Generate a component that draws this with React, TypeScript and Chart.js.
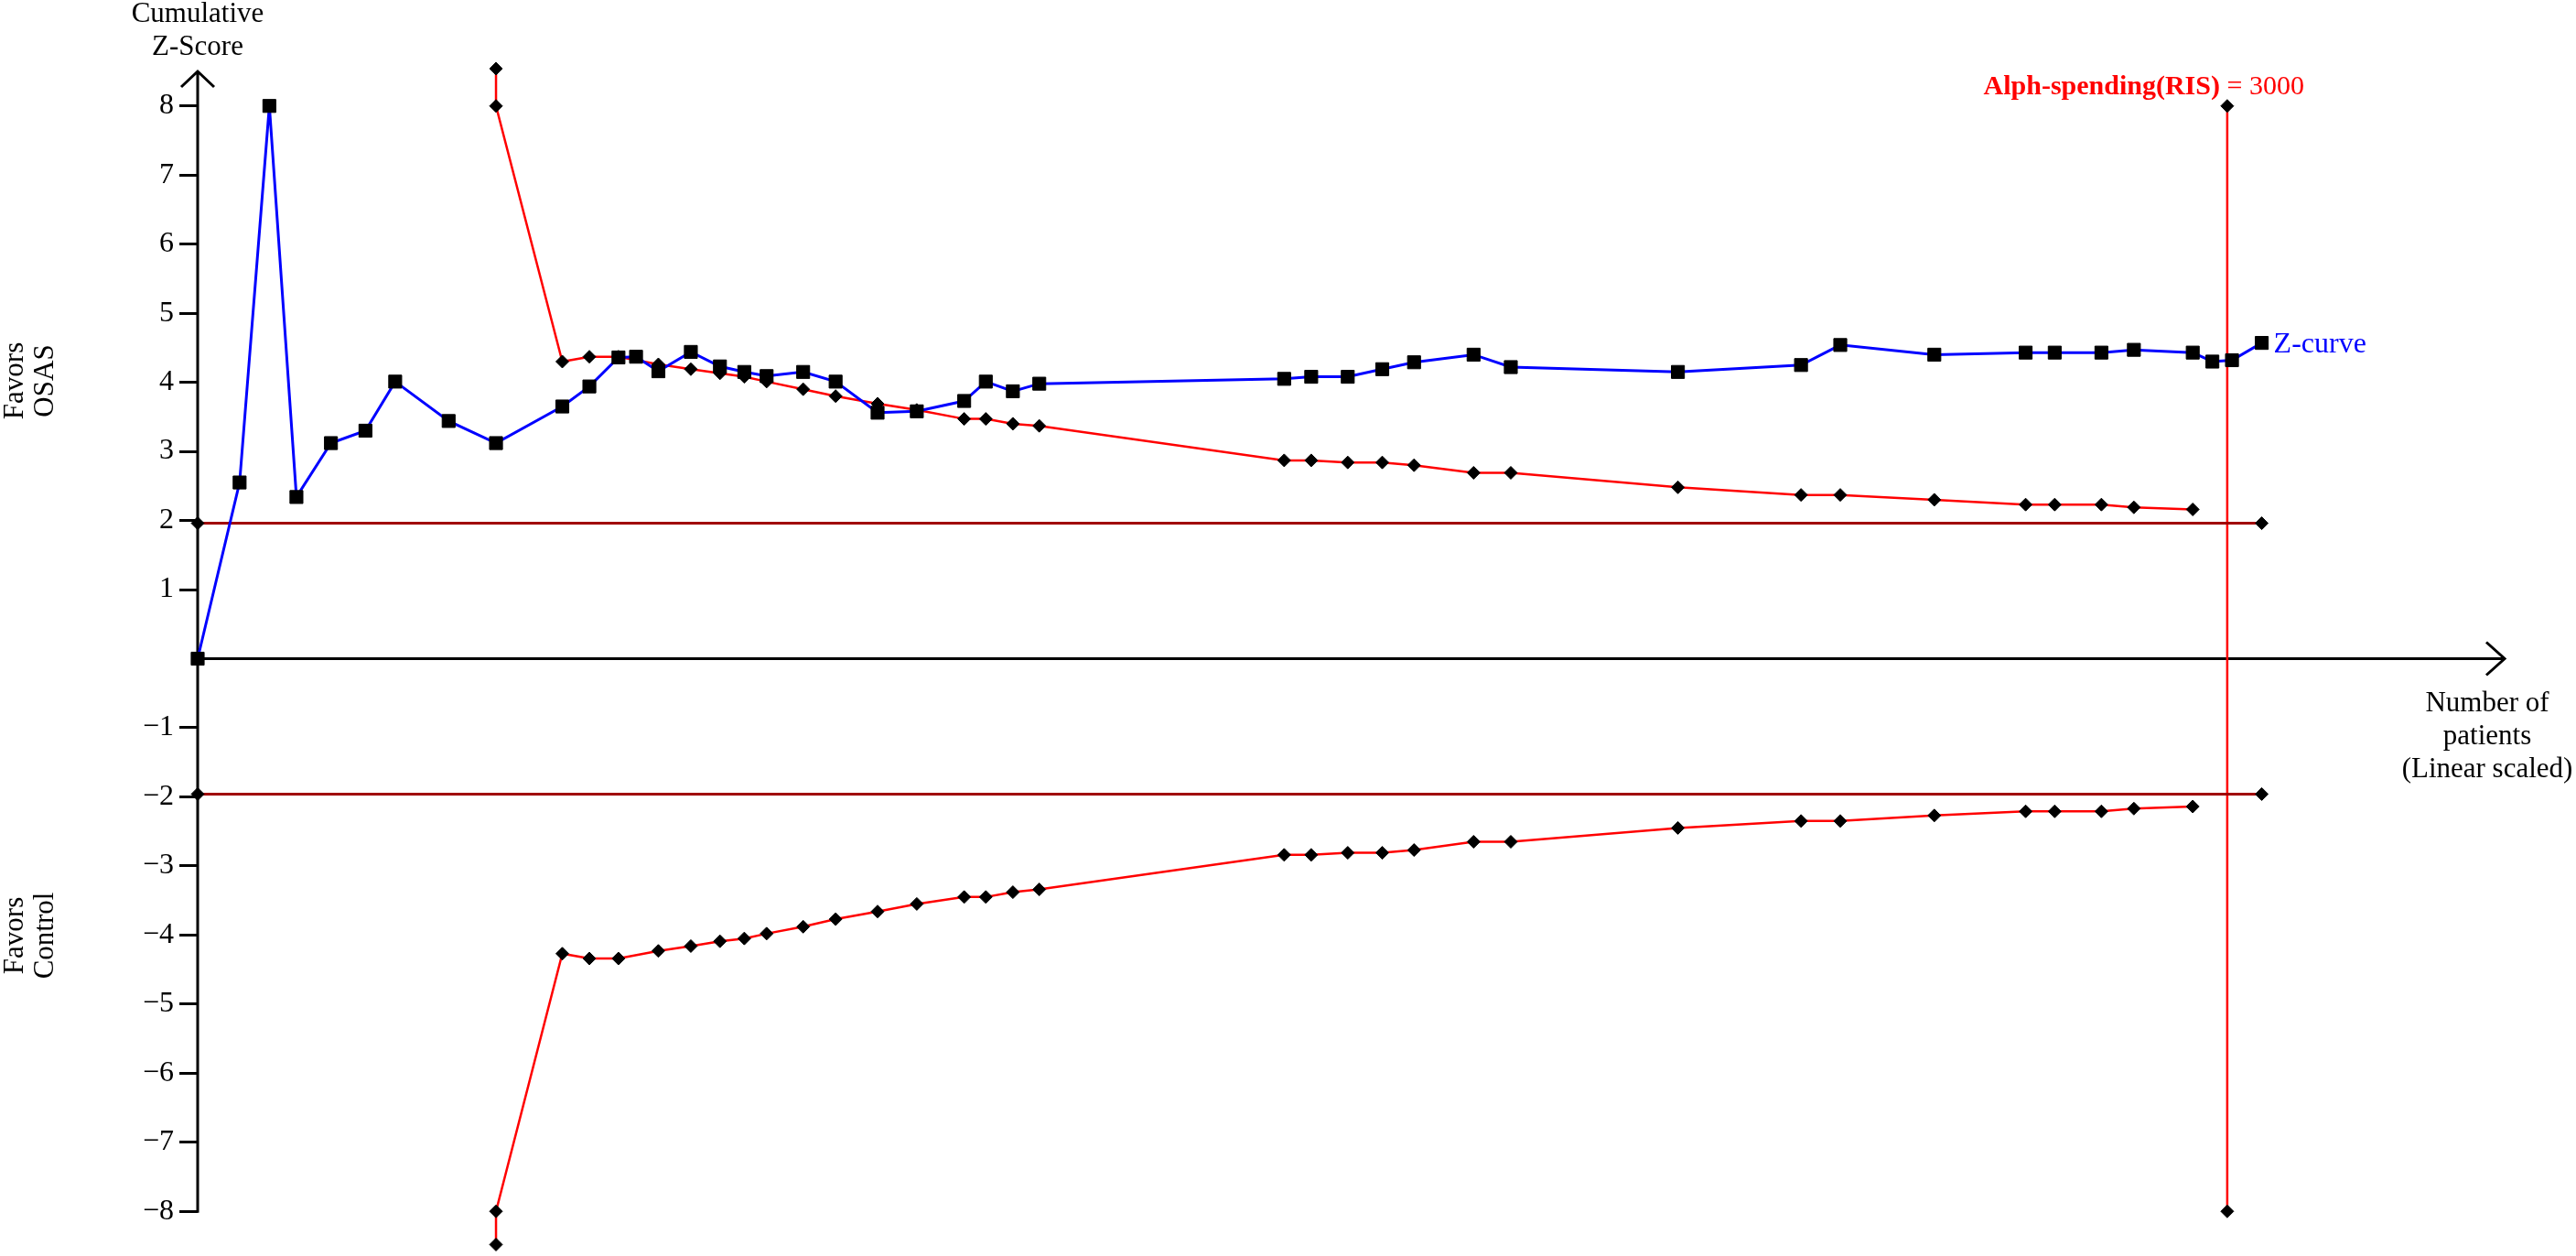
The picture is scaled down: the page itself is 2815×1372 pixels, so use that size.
import React, { useEffect, useRef } from 'react';
import { Chart, registerables } from 'chart.js';

Chart.register(...registerables);

// Cumulative Z-curve (number of patients vs cumulative Z-score)
const patients = [0, 62, 106, 146, 197, 248, 292, 371, 441, 539, 579, 622, 648, 681, 729, 772, 808, 841, 895, 943, 1005, 1063, 1133, 1165, 1205, 1244, 1606, 1646, 1700, 1751, 1798, 1886, 1941, 2188, 2370, 2428, 2567, 2702, 2745, 2814, 2862, 2949, 2978, 3007, 3051];
const zCurve = [0, 2.55, 8.0, 2.34, 3.12, 3.3, 4.01, 3.44, 3.12, 3.65, 3.94, 4.36, 4.37, 4.16, 4.44, 4.23, 4.15, 4.09, 4.15, 4.01, 3.56, 3.58, 3.73, 4.01, 3.87, 3.98, 4.05, 4.08, 4.08, 4.19, 4.29, 4.4, 4.22, 4.15, 4.25, 4.54, 4.4, 4.43, 4.43, 4.43, 4.47, 4.43, 4.3, 4.32, 4.57];

// Alpha-spending monitoring boundaries
const boundaryPatients = [441, 441, 539, 579, 622, 681, 729, 772, 808, 841, 895, 943, 1005, 1063, 1133, 1165, 1205, 1244, 1606, 1646, 1700, 1751, 1798, 1886, 1941, 2188, 2370, 2428, 2567, 2702, 2745, 2814, 2862, 2949];
const upperBoundary = [8.54, 8.0, 4.3, 4.37, 4.37, 4.26, 4.19, 4.13, 4.08, 4.01, 3.9, 3.8, 3.69, 3.6, 3.47, 3.47, 3.4, 3.37, 2.87, 2.87, 2.84, 2.84, 2.8, 2.69, 2.69, 2.48, 2.37, 2.37, 2.3, 2.23, 2.23, 2.23, 2.19, 2.16];
const lowerBoundary = [-8.48, -8.0, -4.27, -4.34, -4.34, -4.23, -4.16, -4.09, -4.05, -3.98, -3.88, -3.77, -3.66, -3.55, -3.45, -3.45, -3.38, -3.34, -2.84, -2.84, -2.81, -2.81, -2.77, -2.65, -2.65, -2.45, -2.35, -2.35, -2.27, -2.21, -2.21, -2.21, -2.17, -2.14];

// Conventional boundaries (Z = ±1.96)
const convPatients = [0, 3051];
const convUpper = [1.96, 1.96];
const convLower = [-1.96, -1.96];

// Required information size line
const risValue = 3000;
const risPatients = [risValue, risValue];
const risZ = [8, -8];

// Axis settings
const yTickValues = [-8, -7, -6, -5, -4, -3, -2, -1, 1, 2, 3, 4, 5, 6, 7, 8];
const yMin = -8.5;
const yMax = 8.5;
const yAxisEnd = -8;
const xMin = 0;
const xMax = 3410;

const SERIF = '"Liberation Serif", "Times New Roman", serif';

const toPoints = (xs: number[], ys: number[]) => xs.map((x, i) => ({ x, y: ys[i] }));

const decorPlugin = {
  id: 'decor',
  beforeDatasetsDraw(chart: any) {
    const { ctx, chartArea, scales } = chart;
    const y0 = scales.y.getPixelForValue(0);
    const yEnd = scales.y.getPixelForValue(yAxisEnd);
    ctx.save();
    ctx.strokeStyle = '#000';
    ctx.lineWidth = 3;
    ctx.lineCap = 'butt';
    ctx.beginPath();
    // x axis with arrow
    ctx.moveTo(chartArea.left, y0);
    ctx.lineTo(chartArea.right, y0);
    ctx.moveTo(chartArea.right - 20, y0 - 18);
    ctx.lineTo(chartArea.right, y0);
    ctx.lineTo(chartArea.right - 20, y0 + 18);
    // y axis with arrow
    ctx.moveTo(chartArea.left, yEnd + 1.5);
    ctx.lineTo(chartArea.left, chartArea.top);
    ctx.moveTo(chartArea.left - 18, chartArea.top + 17);
    ctx.lineTo(chartArea.left, chartArea.top);
    ctx.lineTo(chartArea.left + 18, chartArea.top + 17);
    ctx.stroke();
    ctx.restore();
  },
  afterDraw(chart: any) {
    const { ctx, chartArea, scales } = chart;
    ctx.save();
    ctx.fillStyle = '#000';
    ctx.font = `31px ${SERIF}`;
    ctx.textAlign = 'center';
    ctx.textBaseline = 'alphabetic';
    ctx.fillText('Cumulative', chartArea.left, 24);
    ctx.fillText('Z-Score', chartArea.left, 60);

    ctx.fillText('Number of', 2718, 777);
    ctx.fillText('patients', 2718, 813);
    ctx.fillText('(Linear scaled)', 2718, 849);

    const rot = (t: string, x: number, y: number) => {
      ctx.save();
      ctx.translate(x, y);
      ctx.rotate(-Math.PI / 2);
      ctx.fillText(t, 0, 0);
      ctx.restore();
    };
    rot('Favors', 25, 416);
    rot('OSAS', 58, 416);
    rot('Favors', 25, 1022);
    rot('Control', 58, 1022);

    // Z-curve label
    const lx = scales.x.getPixelForValue(patients[patients.length - 1]);
    const ly = scales.y.getPixelForValue(zCurve[zCurve.length - 1]);
    ctx.fillStyle = '#0000ff';
    ctx.font = `32px ${SERIF}`;
    ctx.textAlign = 'left';
    ctx.fillText('Z-curve', lx + 13, ly + 10);

    // RIS label
    const rx = scales.x.getPixelForValue(risValue);
    const ry = scales.y.getPixelForValue(risZ[0]);
    ctx.fillStyle = '#ff0000';
    ctx.textAlign = 'right';
    const rightEdge = rx + 84;
    ctx.font = `30px ${SERIF}`;
    const tail = ' = ' + String(risValue);
    ctx.fillText(tail, rightEdge, ry - 13);
    const tw = ctx.measureText(tail).width;
    ctx.font = `bold 30px ${SERIF}`;
    ctx.fillText('Alph-spending(RIS)', rightEdge - tw, ry - 13);
    ctx.restore();
  },
};

export default function App() {
  const ref = useRef<HTMLCanvasElement>(null);

  useEffect(() => {
    document.body.style.margin = '0';
    document.body.style.overflow = 'hidden';
    const canvas = ref.current;
    if (!canvas) return;

    const pointBase = {
      pointBackgroundColor: '#000',
      pointBorderColor: '#000',
      pointBorderWidth: 1,
      pointHoverRadius: 0,
    };

    const chart = new Chart(canvas, {
      type: 'scatter',
      data: {
        datasets: [
          {
            label: 'Z-curve',
            data: toPoints(patients, zCurve),
            showLine: true,
            borderColor: '#0000ff',
            borderWidth: 3,
            tension: 0,
            pointStyle: 'rect',
            pointRadius: 10,
            clip: false,
            ...pointBase,
          },
          {
            label: 'Upper boundary',
            data: toPoints(boundaryPatients, upperBoundary),
            showLine: true,
            borderColor: '#ff0000',
            borderWidth: 2.5,
            tension: 0,
            pointStyle: 'rectRot',
            pointRadius: 7,
            clip: false,
            ...pointBase,
          },
          {
            label: 'Lower boundary',
            data: toPoints(boundaryPatients, lowerBoundary),
            showLine: true,
            borderColor: '#ff0000',
            borderWidth: 2.5,
            tension: 0,
            pointStyle: 'rectRot',
            pointRadius: 7,
            clip: false,
            ...pointBase,
          },
          {
            label: 'Conventional upper',
            data: toPoints(convPatients, convUpper),
            showLine: true,
            borderColor: '#a00000',
            borderWidth: 3,
            pointStyle: 'rectRot',
            pointRadius: 7,
            clip: false,
            ...pointBase,
          },
          {
            label: 'Conventional lower',
            data: toPoints(convPatients, convLower),
            showLine: true,
            borderColor: '#a00000',
            borderWidth: 3,
            pointStyle: 'rectRot',
            pointRadius: 7,
            clip: false,
            ...pointBase,
          },
          {
            label: 'RIS',
            data: toPoints(risPatients, risZ),
            showLine: true,
            borderColor: '#ff0000',
            borderWidth: 2.5,
            pointStyle: 'rectRot',
            pointRadius: 7,
            clip: false,
            ...pointBase,
          },
        ],
      },
      options: {
        responsive: false,
        animation: false,
        events: [],
        layout: { padding: { top: 78, right: 78, bottom: 7, left: 0 } },
        plugins: {
          legend: { display: false },
          tooltip: { enabled: false },
          title: { display: false },
        },
        scales: {
          x: {
            type: 'linear',
            min: xMin,
            max: xMax,
            display: false,
          },
          y: {
            type: 'linear',
            position: 'left',
            min: yMin,
            max: yMax,
            afterBuildTicks: (s: any) => {
              s.ticks = yTickValues.map((v) => ({ value: v }));
            },
            afterFit: (s: any) => {
              s.width = 216;
              s.paddingTop = 0;
              s.paddingBottom = 0;
            },
            ticks: {
              autoSkip: false,
              padding: 6,
              color: '#000',
              font: { family: SERIF, size: 32 },
              callback: (v: any) => (v < 0 ? '\u2212' + Math.abs(v) : String(v)),
            },
            grid: {
              drawOnChartArea: false,
              drawTicks: true,
              tickLength: 20,
              color: '#000',
              lineWidth: 3,
            },
            border: { display: false },
          },
        },
      },
      plugins: [decorPlugin],
    } as any);

    return () => chart.destroy();
  }, []);

  return (
    <div style={{ width: 2815, height: 1372, background: '#fff' }}>
      <canvas ref={ref} width={2815} height={1372} style={{ display: 'block', width: 2815, height: 1372 }} />
    </div>
  );
}
